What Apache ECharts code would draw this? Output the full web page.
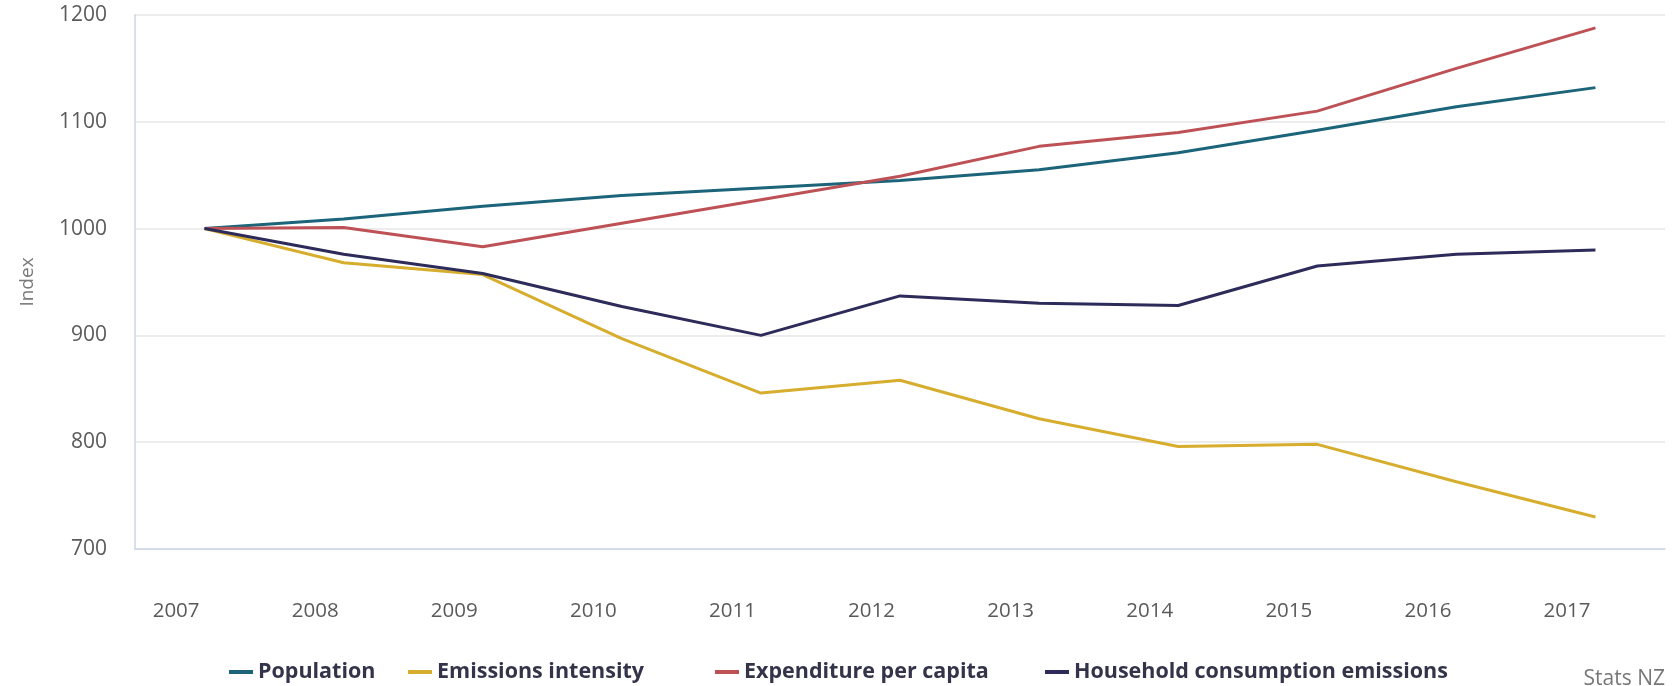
<!DOCTYPE html>
<html style="height: 100%">
<head>
    <meta charset="utf-8">
    <script src="https://cdn.jsdelivr.net/npm/echarts@6/dist/echarts.min.js"></script>
</head>
<body style="height: 100%; margin: 0; background: #fff;">
    <div id="container" style="width: 1673px; height: 686px;"></div>
    <script type="text/javascript">
        // 数据
        var years = ['2007', '2008', '2009', '2010', '2011', '2012', '2013', '2014', '2015', '2016', '2017'];
        var population = [1000, 1009, 1021, 1031, 1038, 1045, 1055, 1071, 1092, 1114, 1132];
        var emissionsIntensity = [1000, 968, 957, 897, 846, 858, 822, 796, 798, 763, 730];
        var expenditurePerCapita = [1000, 1001, 983, 1005, 1027, 1049, 1077, 1090, 1110, 1150, 1188];
        var householdEmissions = [1000, 976, 958, 927, 900, 937, 930, 928, 965, 976, 980];
        var yTicks = [700, 800, 900, 1000, 1100, 1200];
        var seriesNames = ['Population', 'Emissions intensity', 'Expenditure per capita', 'Household consumption emissions'];
        var seriesColors = ['#1b6479', '#d6ad2c', '#bd5155', '#2d2b59'];

        var labelColor = '#5a5a5a';
        var fontName = 'Open Sans';

        // 图例：每项单独定位
        var legendLefts = [224, 403, 710, 1040];
        var legends = seriesNames.map(function (n, i) {
            return {
                left: legendLefts[i],
                bottom: -2,
                itemWidth: 24,
                itemHeight: 4,
                icon: 'rect',
                selectedMode: false,
                textStyle: {
                    fontFamily: fontName,
                    fontSize: 21.5,
                    fontWeight: 'bold',
                    color: '#33334a'
                },
                data: [n]
            };
        });

        var seriesData = [population, emissionsIntensity, expenditurePerCapita, householdEmissions];

        var myChart = echarts.init(document.getElementById('container'));
        var option = {
            animation: false,
            textStyle: { fontFamily: fontName },
            grid: {
                left: 135,
                right: 8,
                top: 15,
                bottom: 137
            },
            legend: legends,
            xAxis: {
                type: 'category',
                data: years,
                boundaryGap: true,
                axisLine: { lineStyle: { color: '#cdd5e6', width: 1.5 } },
                axisTick: {
                    alignWithLabel: true,
                    length: 20,
                    lineStyle: { color: '#cdd5e6', width: 1.5 }
                },
                axisLabel: {
                    margin: 52,
                    align: 'right',
                    padding: [0, 5, 0, 0],
                    fontSize: 20.5,
                    color: labelColor
                },
                splitLine: { show: false }
            },
            yAxis: {
                type: 'value',
                min: yTicks[0],
                max: yTicks[yTicks.length - 1],
                interval: 100,
                name: 'Index',
                nameLocation: 'middle',
                nameGap: 98,
                nameTextStyle: { fontSize: 19, color: '#7a7a7a' },
                axisLine: { show: true, lineStyle: { color: '#cdd5e6', width: 1.5 } },
                axisTick: { show: false },
                axisLabel: {
                    margin: 28,
                    fontSize: 21,
                    color: labelColor,
                    formatter: function (v) { return String(v); }
                },
                splitLine: { lineStyle: { color: '#e6e6e6', width: 1.5 } }
            },
            series: seriesNames.map(function (n, i) {
                return {
                    name: n,
                    type: 'line',
                    data: seriesData[i],
                    showSymbol: false,
                    lineStyle: { color: seriesColors[i], width: 3 },
                    itemStyle: { color: seriesColors[i] }
                };
            }),
            graphic: [{
                type: 'text',
                right: 8,
                bottom: -4,
                style: {
                    text: 'Stats NZ',
                    fontFamily: fontName,
                    fontSize: 21,
                    fill: '#777'
                }
            }]
        };
        myChart.setOption(option);
    </script>
</body>
</html>
